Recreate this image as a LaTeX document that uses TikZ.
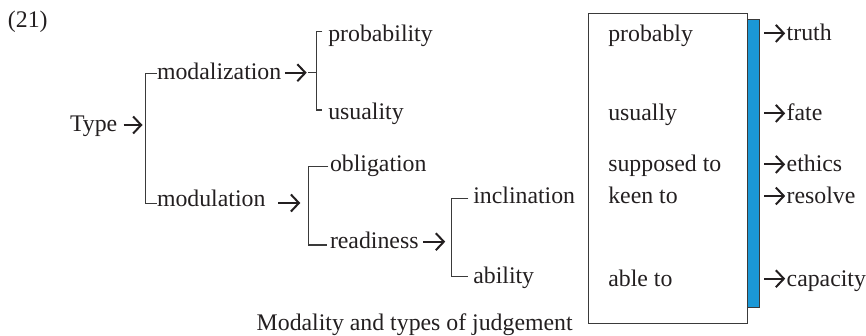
\documentclass[tikz,border=0pt]{standalone}
\usepackage{fontspec}
\setmainfont{Liberation Serif}
\usetikzlibrary{arrows.meta}
\definecolor{ink}{HTML}{231F20}
\definecolor{rule}{HTML}{3A3A3A}
\definecolor{barblue}{HTML}{1B98D6}
\begin{document}
\begin{tikzpicture}[x=1pt,y=-1pt,
  lbl/.style={anchor=base west,inner sep=0pt,outer sep=0pt,text=ink,
    font=\fontsize{23.8}{28}\selectfont},
  brk/.style={draw=rule,line width=1.3pt},
  arr/.style={draw=ink,line width=2pt,
    -{Straight Barb[length=8pt,width=17pt,line width=2pt]}}]
\useasboundingbox (0,0) rectangle (866,336);

% example number and root
\node[lbl] (num)  at (8,28)    {(21)};
\node[lbl] (type) at (70,132)  {Type};

% first split: modalization / modulation
\coordinate (b1t) at (145.5,73.3);
\coordinate (b1b) at (145.5,203.3);
\coordinate (b1m) at (145.5,125);
\node[lbl] (modz) at (157,80)    {modalization};
\node[lbl] (modu) at (157,206.7) {modulation};
\draw[brk] (modz.west |- b1t) -- (b1t) -- (b1b) -- (modu.west |- b1b);
\draw[arr] ([xshift=6.5pt]type.east |- b1m) -- ([xshift=-3pt]b1m);

% modalization: probability / usuality
\coordinate (b2t) at (316.7,31.7);
\coordinate (b2b) at (316.7,110);
\coordinate (b2m) at (316.7,72.7);
\node[lbl] (prob) at (328.3,41.7) {probability};
\node[lbl] (usua) at (328.3,120)  {usuality};
\draw[brk] ([xshift=-6pt]prob.west |- b2t) -- (b2t) -- (b2b) -- ([xshift=-6pt]usua.west |- b2b);
\draw[brk] ([xshift=-8.4pt]b2m) -- (b2m);
\draw[arr] ([xshift=3.5pt]modz.east |- b2m) -- ([xshift=-10pt]b2m);

% modulation: obligation / readiness
\coordinate (b3t) at (308.3,166.7);
\coordinate (b3b) at (308.3,245);
\coordinate (b3m) at (308.3,203);
\node[lbl] (obl)  at (330,171.7) {obligation};
\node[lbl] (read) at (330,248.3) {readiness};
\draw[brk] ([xshift=-1.7pt]obl.west |- b3t) -- (b3t) -- (b3b) -- ([xshift=-3.3pt]read.west |- b3b);
\draw[arr] ([xshift=13pt]modu.east |- b3m) -- ([xshift=-8pt]b3m);

% readiness: inclination / ability
\coordinate (b4t) at (451.7,198.3);
\coordinate (b4b) at (451.7,276.7);
\coordinate (b4m) at (451.7,241.7);
\node[lbl] (incl) at (473.3,203.5) {inclination};
\node[lbl] (abil) at (473.3,283.3) {ability};
\draw[brk] ([xshift=-5pt]incl.west |- b4t) -- (b4t) -- (b4b) -- ([xshift=-5pt]abil.west |- b4b);
\draw[arr] ([xshift=4.5pt]read.east |- b4m) -- ([xshift=-6.5pt]b4m);

% modal adjuncts box with its blue edge bar
\node[draw=rule,line width=1.1pt,inner sep=0pt,minimum width=158.4pt,
  minimum height=310pt,anchor=north west] (box) at (588.3,13.3) {};
\node[draw=rule,fill=barblue,line width=1pt,inner sep=0pt,minimum width=12.6pt,
  minimum height=288pt,anchor=north west] (bar) at (746.7,19.3) {};

\node[lbl] (probly) at (608.3,41.7)  {probably};
\node[lbl] (usly)   at (608.3,120.7) {usually};
\node[lbl] (supp)   at (608.3,171.7) {supposed to};
\node[lbl] (keen)   at (608.3,203.3) {keen to};
\node[lbl] (able)   at (608.3,286)   {able to};

% types of judgement
\node[lbl] (truth) at (786.7,40.7)  {truth};
\node[lbl] (fate)  at (786.7,120.7) {fate};
\node[lbl] (eth)   at (786.7,171.7) {ethics};
\node[lbl] (res)   at (786.7,203.3) {resolve};
\node[lbl] (cap)   at (786.7,286)   {capacity};
\foreach \t in {truth,fate,eth,res,cap}
  \draw[arr] ([xshift=-22.7pt,yshift=7.3pt]\t.base west) -- ([xshift=-1.5pt,yshift=7.3pt]\t.base west);

% caption
\node[lbl] (cap0) at (256.7,330) {Modality and types of judgement};
\end{tikzpicture}
\end{document}
